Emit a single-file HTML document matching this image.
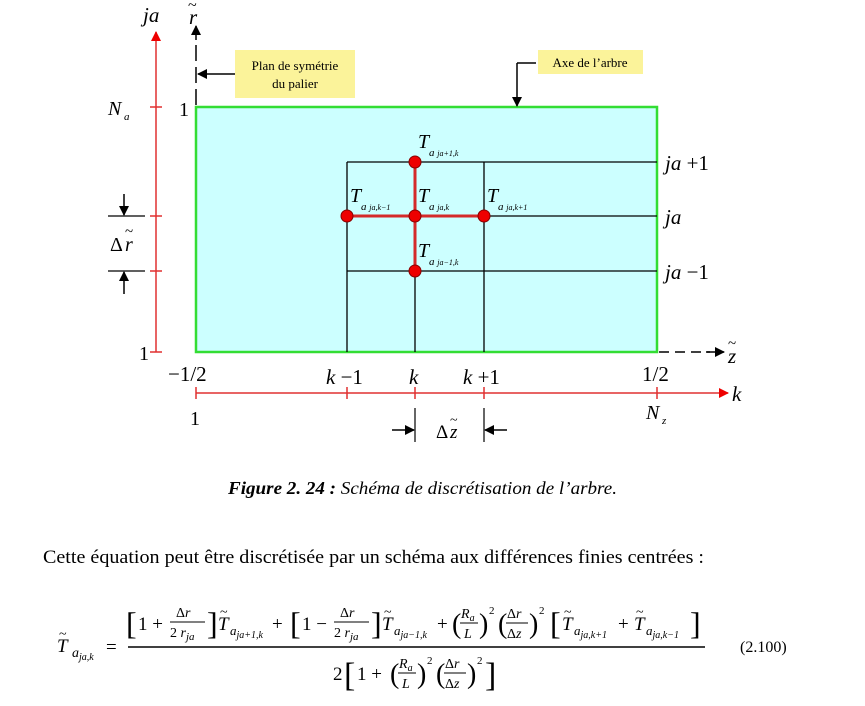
<!DOCTYPE html>
<html><head><meta charset="utf-8"><style>
html,body{margin:0;padding:0;background:#fff;}
svg{display:block;}
text{font-family:"Liberation Serif",serif;fill:#000;}
.i{font-style:italic;}
</style></head><body>
<svg width="865" height="706" viewBox="0 0 865 706" xmlns="http://www.w3.org/2000/svg">
<defs>
<marker id="ar" markerWidth="10" markerHeight="10" refX="9" refY="5" orient="auto" markerUnits="userSpaceOnUse"><path d="M0,0 L10,5 L0,10 z" fill="#e00"/></marker>
<marker id="ab" markerWidth="10" markerHeight="10" refX="9" refY="5" orient="auto" markerUnits="userSpaceOnUse"><path d="M0,0 L10,5 L0,10 z" fill="#000"/></marker>
</defs>
<rect x="196" y="107" width="461" height="245" fill="#ccffff" stroke="#33dd33" stroke-width="2.5"/>
<g stroke="#000" stroke-width="1.3">
<line x1="347" y1="162" x2="347" y2="352"/><line x1="415" y1="162" x2="415" y2="352"/><line x1="484" y1="162" x2="484" y2="352"/>
<line x1="347" y1="162" x2="657" y2="162"/><line x1="347" y1="216" x2="657" y2="216"/><line x1="347" y1="271" x2="657" y2="271"/>
</g>
<g stroke="#d42a2a" stroke-width="3"><line x1="347" y1="216" x2="484" y2="216"/><line x1="415" y1="162" x2="415" y2="271"/></g>
<g fill="#e00" stroke="#800" stroke-width="1"><circle cx="415" cy="162" r="6"/><circle cx="347" cy="216" r="6"/><circle cx="415" cy="216" r="6"/><circle cx="484" cy="216" r="6"/><circle cx="415" cy="271" r="6"/></g>
<g stroke="#e03030" stroke-width="1.5">
<line x1="156" y1="352" x2="156" y2="32" marker-end="url(#ar)"/>
<line x1="150" y1="352" x2="162" y2="352"/><line x1="150" y1="107" x2="162" y2="107"/><line x1="150" y1="216" x2="162" y2="216"/><line x1="150" y1="271" x2="162" y2="271"/>
<line x1="196" y1="393" x2="728" y2="393" marker-end="url(#ar)"/>
<line x1="196" y1="387" x2="196" y2="399"/><line x1="347" y1="387" x2="347" y2="399"/><line x1="415" y1="387" x2="415" y2="399"/><line x1="484" y1="387" x2="484" y2="399"/><line x1="657" y1="387" x2="657" y2="399"/>
</g>
<g stroke="#000" stroke-width="1.5">
<line x1="196" y1="105" x2="196" y2="40" stroke-dasharray="16,6"/>
<line x1="196" y1="40" x2="196" y2="26" marker-end="url(#ab)"/>
<line x1="659" y1="352" x2="710" y2="352" stroke-dasharray="10,6"/>
<line x1="706" y1="352" x2="724" y2="352" marker-end="url(#ab)"/>
<line x1="235" y1="74" x2="198" y2="74" marker-end="url(#ab)"/>
<line x1="536" y1="63" x2="517" y2="63"/><line x1="517" y1="63" x2="517" y2="106" marker-end="url(#ab)"/>
<line x1="108" y1="216" x2="145" y2="216" stroke-width="1.2"/><line x1="108" y1="271" x2="145" y2="271" stroke-width="1.2"/>
<line x1="124" y1="194" x2="124" y2="215" marker-end="url(#ab)"/><line x1="124" y1="294" x2="124" y2="272" marker-end="url(#ab)"/>
<line x1="415" y1="408" x2="415" y2="442" stroke-width="1.2"/><line x1="484" y1="408" x2="484" y2="442" stroke-width="1.2"/>
<line x1="392" y1="430" x2="414" y2="430" marker-end="url(#ab)"/><line x1="507" y1="430" x2="485" y2="430" marker-end="url(#ab)"/>
</g>
<rect x="235" y="50" width="120" height="48" fill="#fbf39a"/>
<text x="295" y="70" font-size="13" text-anchor="middle">Plan de symétrie</text>
<text x="295" y="88" font-size="13" text-anchor="middle">du palier</text>
<rect x="538" y="50" width="105" height="24" fill="#fbf39a"/>
<text x="590" y="67" font-size="13" text-anchor="middle">Axe de l’arbre</text>
<text x="143" y="22" font-size="21" class="i">ja</text>
<text x="189" y="24" font-size="21" class="i">r</text><text x="188" y="10" font-size="16">~</text>
<text x="108" y="115" font-size="20" class="i">N</text><text x="124" y="120" font-size="11" class="i">a</text>
<text x="179" y="116" font-size="20">1</text>
<text x="139" y="360" font-size="20">1</text>
<text x="110" y="251" font-size="20">Δ</text><text x="125" y="251" font-size="20" class="i">r</text><text x="125" y="236" font-size="15">~</text>
<text x="665" y="170" font-size="21" class="i">ja<tspan font-style="normal"> +1</tspan></text>
<text x="665" y="224" font-size="21" class="i">ja</text>
<text x="665" y="279" font-size="21" class="i">ja<tspan font-style="normal"> −1</tspan></text>
<text x="728" y="363" font-size="21" class="i">z</text><text x="728" y="348" font-size="15">~</text>
<text x="732" y="401" font-size="21" class="i">k</text>
<text x="168" y="381" font-size="21">−1/2</text>
<text x="642" y="381" font-size="21">1/2</text>
<text x="326" y="384" font-size="21" class="i">k<tspan font-style="normal"> −1</tspan></text>
<text x="409" y="384" font-size="21" class="i">k</text>
<text x="463" y="384" font-size="21" class="i">k<tspan font-style="normal"> +1</tspan></text>
<text x="190" y="425" font-size="20">1</text>
<text x="646" y="419" font-size="20" class="i">N</text><text x="662" y="424" font-size="11" class="i">z</text>
<text x="436" y="438" font-size="19">Δ</text><text x="450" y="438" font-size="19" class="i">z</text><text x="450" y="424" font-size="14">~</text>
<g font-size="20" class="i">
<text x="418" y="148" class="i">T</text><text x="429" y="156" font-size="11" class="i">a <tspan font-size="8">ja+1,k</tspan></text>
<text x="350" y="202" class="i">T</text><text x="361" y="210" font-size="11" class="i">a <tspan font-size="8">ja,k−1</tspan></text>
<text x="418" y="202" class="i">T</text><text x="429" y="210" font-size="11" class="i">a <tspan font-size="8">ja,k</tspan></text>
<text x="487" y="202" class="i">T</text><text x="498" y="210" font-size="11" class="i">a <tspan font-size="8">ja,k+1</tspan></text>
<text x="418" y="257" class="i">T</text><text x="429" y="265" font-size="11" class="i">a <tspan font-size="8">ja−1,k</tspan></text>
</g>
<text x="228" y="494" font-size="18" font-style="italic" textLength="389" lengthAdjust="spacingAndGlyphs"><tspan font-weight="bold">Figure 2. 24 :</tspan> Schéma de discrétisation de l’arbre.</text>
<text x="43" y="563" font-size="19" textLength="661" lengthAdjust="spacingAndGlyphs">Cette équation peut être discrétisée par un schéma aux différences finies centrées :</text>
<g font-size="19">
<text x="57" y="652" class="i">T</text><text x="59" y="638" font-size="14">~</text>
<text x="72" y="657" font-size="14" class="i">a<tspan font-size="10" dy="3">ja,k</tspan></text>
<text x="106" y="653">=</text>
<line x1="128" y1="647" x2="705" y2="647" stroke="#000" stroke-width="1.6"/>
<text x="126" y="634" font-size="32">[</text>
<text x="138" y="630">1 +</text>
<text x="176" y="617" font-size="14">Δ<tspan class="i">r</tspan></text>
<line x1="170" y1="622" x2="205" y2="622" stroke="#000"/>
<text x="170" y="637" font-size="14">2 <tspan class="i">r</tspan><tspan class="i" font-size="11" dy="3">ja</tspan></text>
<text x="207" y="634" font-size="32">]</text>
<text x="218" y="630" class="i">T</text><text x="220" y="616" font-size="14">~</text>
<text x="230" y="635" font-size="13" class="i">a<tspan font-size="10" dy="3">ja+1,k</tspan></text>
<text x="272" y="630">+</text>
<text x="290" y="634" font-size="32">[</text>
<text x="302" y="630">1 −</text>
<text x="340" y="617" font-size="14">Δ<tspan class="i">r</tspan></text>
<line x1="334" y1="622" x2="369" y2="622" stroke="#000"/>
<text x="334" y="637" font-size="14">2 <tspan class="i">r</tspan><tspan class="i" font-size="11" dy="3">ja</tspan></text>
<text x="371" y="634" font-size="32">]</text>
<text x="382" y="630" class="i">T</text><text x="384" y="616" font-size="14">~</text>
<text x="394" y="635" font-size="13" class="i">a<tspan font-size="10" dy="3">ja−1,k</tspan></text>
<text x="437" y="630">+</text>
<text x="452" y="633" font-size="28">(</text>
<text x="461" y="618" font-size="14" class="i">R<tspan font-size="10" dy="3">a</tspan></text>
<line x1="460" y1="623" x2="478" y2="623" stroke="#000"/>
<text x="464" y="638" font-size="14" class="i">L</text>
<text x="479" y="633" font-size="28">)</text>
<text x="489" y="614" font-size="11">2</text>
<text x="498" y="633" font-size="28">(</text>
<text x="507" y="618" font-size="14">Δ<tspan class="i">r</tspan></text>
<line x1="506" y1="623" x2="528" y2="623" stroke="#000"/>
<text x="507" y="638" font-size="14">Δ<tspan class="i">z</tspan></text>
<text x="529" y="633" font-size="28">)</text>
<text x="539" y="614" font-size="11">2</text>
<text x="550" y="634" font-size="32">[</text>
<text x="562" y="630" class="i">T</text><text x="564" y="616" font-size="14">~</text>
<text x="574" y="635" font-size="13" class="i">a<tspan font-size="10" dy="3">ja,k+1</tspan></text>
<text x="618" y="630">+</text>
<text x="634" y="630" class="i">T</text><text x="636" y="616" font-size="14">~</text>
<text x="646" y="635" font-size="13" class="i">a<tspan font-size="10" dy="3">ja,k−1</tspan></text>
<text x="690" y="634" font-size="32">]</text>
<text x="333" y="680">2</text>
<text x="344" y="686" font-size="34">[</text>
<text x="357" y="680">1 +</text>
<text x="390" y="683" font-size="28">(</text>
<text x="399" y="668" font-size="14" class="i">R<tspan font-size="10" dy="3">a</tspan></text>
<line x1="398" y1="673" x2="416" y2="673" stroke="#000"/>
<text x="402" y="688" font-size="14" class="i">L</text>
<text x="417" y="683" font-size="28">)</text>
<text x="427" y="664" font-size="11">2</text>
<text x="436" y="683" font-size="28">(</text>
<text x="445" y="668" font-size="14">Δ<tspan class="i">r</tspan></text>
<line x1="444" y1="673" x2="466" y2="673" stroke="#000"/>
<text x="445" y="688" font-size="14">Δ<tspan class="i">z</tspan></text>
<text x="467" y="683" font-size="28">)</text>
<text x="477" y="664" font-size="11">2</text>
<text x="485" y="686" font-size="34">]</text>
<text x="740" y="652" font-size="16">(2.100)</text>
</g>
</svg>
</body></html>
